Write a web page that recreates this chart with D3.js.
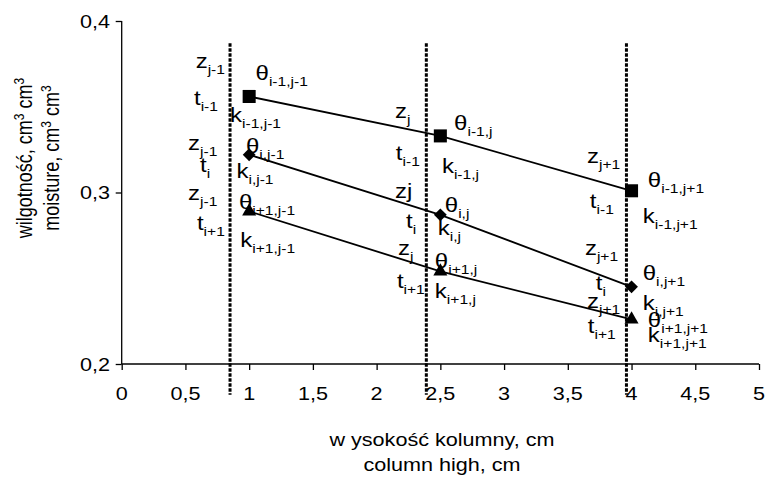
<!DOCTYPE html>
<html>
<head>
<meta charset="utf-8">
<script src="https://cdn.jsdelivr.net/npm/d3@7"></script>
<style>
  body { margin: 0; background: #fff; }
  text { font-family: "Liberation Sans", Arial, sans-serif; fill: #000; }
</style>
</head>
<body>
<div id="chart"></div>
<script>
// column positions (cm) and moisture at the three time steps
const columnX = [1, 2.5, 4];
const thetaPrev = [0.356, 0.333, 0.301];   // t i-1, squares
const thetaCur = [0.322, 0.287, 0.245];    // t i, diamonds
const thetaNext = [0.289, 0.254, 0.226];   // t i+1, triangles

// layer boundaries (dotted verticals)
const boundaryX = [0.85, 2.39, 3.96];

const xTicks = [0, 0.5, 1, 1.5, 2, 2.5, 3, 3.5, 4, 4.5, 5];
const yTicks = [0.2, 0.3, 0.4];

const xTitle = ['w ysokość kolumny, cm', 'column high, cm'];
const yTitle = [['wilgotność, cm', '3', ' cm', '3'], ['moisture, cm', '3', ' cm', '3']];

// annotation labels: letter, subscript, x, moisture
const labels = [
  ['z', 'j-1', 0.58, 0.3726], ['t', 'i-1', 0.567, 0.351],
  ['θ', 'i-1,j-1', 1.05, 0.3656], ['k', 'i-1,j-1', 0.85, 0.3411],
  ['z', 'j-1', 0.52, 0.3248], ['θ', 'i,j-1', 0.975, 0.323],
  ['t', 'i', 0.614, 0.312], ['k', 'i,j-1', 0.9, 0.3085],
  ['z', 'j-1', 0.52, 0.2957], ['θ', 'i+1,j-1', 0.92, 0.2904],
  ['t', 'i+1', 0.59, 0.2781], ['k', 'i+1,j-1', 0.93, 0.2682],

  ['z', 'j', 2.145, 0.3434], ['θ', 'i-1,j', 2.608, 0.3365],
  ['t', 'i-1', 2.151, 0.319], ['k', 'i-1,j', 2.512, 0.3114],
  ['zj', '', 2.145, 0.2968], ['θ', 'i,j', 2.535, 0.2886],
  ['t', 'i', 2.231, 0.2793], ['k', 'i,j', 2.48, 0.2752],
  ['z', 'j', 2.167, 0.2636], ['θ', 'i+1,j', 2.457, 0.256],
  ['t', 'i+1', 2.159, 0.2443], ['k', 'i+1,j', 2.457, 0.2385],

  ['z', 'j+1', 3.65, 0.3172], ['θ', 'i-1,j+1', 4.128, 0.3032],
  ['t', 'i-1', 3.673, 0.291], ['k', 'i-1,j+1', 4.088, 0.2822],
  ['z', 'j+1', 3.634, 0.2636], ['θ', 'i,j+1', 4.088, 0.249],
  ['t', 'i', 3.72, 0.2432], ['z', 'j+1', 3.65, 0.2327],
  ['k', 'i,j+1', 4.088, 0.2315], ['θ', 'i+1,j+1', 4.128, 0.2216],
  ['t', 'i+1', 3.657, 0.2181], ['k', 'i+1,j+1', 4.128, 0.2129]
];

(function () {
  const width = 767, height = 484;
  // the source picture is stretched sideways, so text is too
  const SX = 1.2;

  const svg = d3.select('#chart').append('svg')
    .attr('width', width)
    .attr('height', height);

  const x = d3.scaleLinear().domain([0, 5]).range([121.7, 759]);
  const y = d3.scaleLinear().domain([0.2, 0.4]).range([364, 21]);
  const comma = v => String(v).replace('.', ',');

  function stretched(g, px, py, anchor) {
    return g.append('text')
      .attr('transform', 'translate(' + px + ',' + py + ') scale(' + SX + ',1)')
      .attr('text-anchor', anchor || 'start');
  }

  // axes
  const xAxis = svg.append('g')
    .attr('transform', 'translate(0,' + y(0.2) + ')')
    .call(d3.axisBottom(x).tickValues(xTicks).tickSize(6).tickFormat(''));
  const yAxis = svg.append('g')
    .attr('transform', 'translate(' + x(0) + ',0)')
    .call(d3.axisLeft(y).tickValues(yTicks).tickSize(6).tickFormat(''));
  [xAxis, yAxis].forEach(a => {
    a.select('.domain').attr('stroke', '#000').attr('stroke-width', 1.3);
    a.selectAll('.tick line').attr('stroke', '#000').attr('stroke-width', 1.3);
  });
  xAxis.select('.domain').attr('d', 'M' + x(0) + ',0H' + x(5));
  yAxis.select('.domain').attr('d', 'M0,' + y(0.4) + 'V' + y(0.2));

  xTicks.forEach(v => {
    stretched(svg, x(v), 400, 'middle').style('font-size', '18px').text(comma(v));
  });
  yTicks.forEach(v => {
    stretched(svg, 110, y(v) + 6.5, 'end').style('font-size', '18px').text(comma(v.toFixed(1)));
  });

  // axis titles
  xTitle.forEach((t, i) => {
    stretched(svg, 442, 446 + i * 25, 'middle').style('font-size', '18px').text(t);
  });
  yTitle.forEach((parts, i) => {
    const t = svg.append('text')
      .attr('transform', 'translate(' + (32 + i * 27) + ',158) scale(' + SX + ',1) rotate(-90)')
      .attr('text-anchor', 'middle')
      .style('font-size', '18px');
    parts.forEach((p, k) => {
      const sup = k % 2 === 1;
      t.append('tspan')
        .attr('dy', sup ? -7 : (k > 0 ? 7 : 0))
        .style('font-size', sup ? '12px' : '18px')
        .text(p);
    });
  });

  // dotted layer boundaries
  svg.selectAll('line.boundary')
    .data(boundaryX)
    .enter().append('line')
    .attr('class', 'boundary')
    .attr('x1', d => x(d)).attr('x2', d => x(d))
    .attr('y1', y(0.387)).attr('y2', y(0.182))
    .attr('stroke', '#000')
    .attr('stroke-width', 3)
    .attr('stroke-dasharray', '3.5,1.5');

  // series
  const series = [
    { values: thetaPrev, symbol: d3.symbolSquare, size: 170, rotate: 0 },
    { values: thetaCur, symbol: d3.symbolSquare, size: 82, rotate: 45 },
    { values: thetaNext, symbol: d3.symbolTriangle, size: 85, rotate: 0 }
  ];
  const line = d3.line().x(d => x(d[0])).y(d => y(d[1]));

  series.forEach(s => {
    const pts = columnX.map((c, i) => [c, s.values[i]]);
    svg.append('path')
      .attr('d', line(pts))
      .attr('fill', 'none')
      .attr('stroke', '#000')
      .attr('stroke-width', 1.8);
    svg.selectAll(null)
      .data(pts)
      .enter().append('path')
      .attr('transform', d => 'translate(' + x(d[0]) + ',' + y(d[1]) + ') rotate(' + s.rotate + ')')
      .attr('d', d3.symbol().type(s.symbol).size(s.size))
      .attr('fill', '#000');
  });

  // annotations
  labels.forEach(([main, sub, lx, ly]) => {
    const t = stretched(svg, x(lx), y(ly), 'start');
    t.append('tspan').style('font-size', '20px').text(main);
    if (sub) {
      t.append('tspan').attr('dy', 6).style('font-size', '13px').text(sub);
    }
  });
})();
</script>
</body>
</html>
